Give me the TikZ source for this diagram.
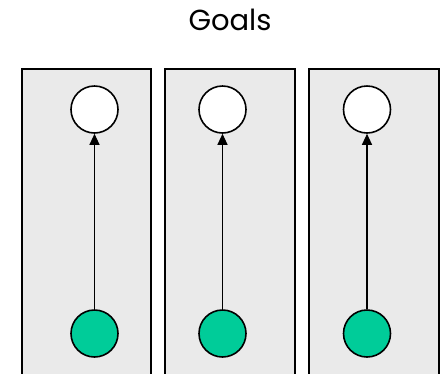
\documentclass[tikz,border=0pt]{standalone}
\usepackage{fontspec}
\setmainfont{Poppins}
\usetikzlibrary{arrows.meta}
\definecolor{goalgreen}{RGB}{0,204,153}
\definecolor{panelgrey}{RGB}{234,234,234}
\tikzset{
  panel/.style={draw, line width=1.8pt, fill=panelgrey},
  goalnode/.style={circle, draw, line width=1.6pt, fill=white, minimum size=47pt, inner sep=0pt},
  startnode/.style={goalnode, fill=goalgreen},
  link/.style={-{Triangle[width=10pt,length=11pt]}, line width=1.2pt},
}
\begin{document}
\begin{tikzpicture}[x=1pt, y=-1pt]
\useasboundingbox (0,0) rectangle (441,373);
\node (title) at (230,20) {\fontsize{29}{30}\selectfont Goals};
% three panels
\draw[panel] (22,69) rectangle (151,380);
\draw[panel] (165,69) rectangle (295,380);
\draw[panel] (309,69) rectangle (439,380);
\foreach \n/\x in {a/94.5, b/222.5, c/367} {
  \node[goalnode] (top\n) at (\x,109.5) {};
  \node[startnode] (bot\n) at (\x,333.5) {};
  \draw[link] (bot\n) -- (top\n);
}
\end{tikzpicture}
\end{document}
